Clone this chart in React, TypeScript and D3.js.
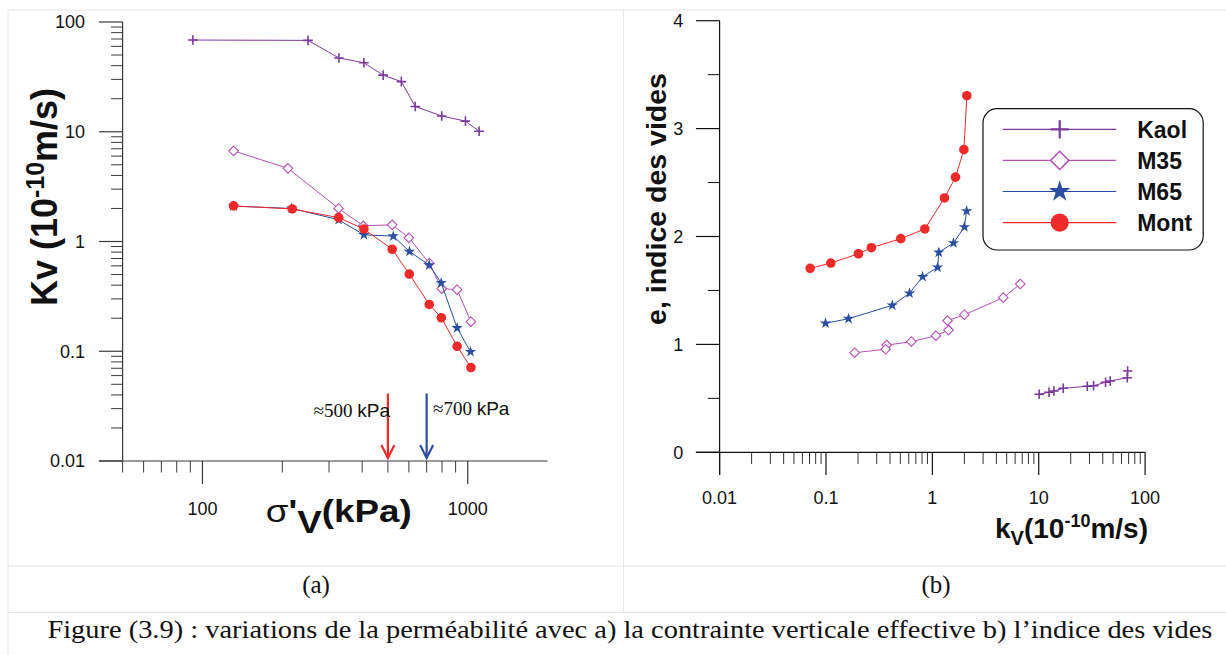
import { scaleLinear, scaleLog, line, symbol, symbolStar } from 'd3'

// effective vertical stress (kPa), permeability kv (1e-10 m/s), void ratio e
const sigmaKaol = [92, 250, 327, 406, 480, 562, 634, 798, 980, 1104]
const kvKaol = [68.5, 68, 47, 42.5, 32.8, 28.6, 17, 13.9, 12.5, 10.1]
const eKaol = [0.753, 0.691, 0.661, 0.649, 0.617, 0.612, 0.593, 0.568, 0.556, 0.538]

const sigmaM35 = [131, 210, 326, 404, 519, 600, 716, 798, 912, 1028]
const kvM35 = [6.7, 4.64, 2.0, 1.39, 1.42, 1.08, 0.635, 0.372, 0.364, 0.186]
const eM35 = [1.56, 1.433, 1.275, 1.22, 1.133, 1.081, 1.025, 0.994, 0.955, 0.923]

const sigmaM65 = [131, 217, 326, 406, 524, 603, 716, 794, 912, 1024]
const kvM65 = [2.1, 2.0, 1.58, 1.15, 1.12, 0.81, 0.61, 0.42, 0.163, 0.099]
const eM65 = [2.236, 2.088, 1.94, 1.853, 1.714, 1.627, 1.474, 1.362, 1.238, 1.196]

const sigmaMont = [131, 218, 326, 406, 519, 602, 716, 795, 912, 1028]
const kvMont = [2.11, 1.98, 1.65, 1.3, 0.85, 0.505, 0.267, 0.202, 0.111, 0.071]
const eMont = [3.305, 2.805, 2.55, 2.357, 2.07, 1.98, 1.896, 1.84, 1.754, 1.705]

const seriesNames = ['Kaol', 'M35', 'M65', 'Mont']
const seriesColors = ['#7a3b9c', '#b650b6', '#2b4ea2', '#ee2a2a']
const seriesMarkers = ['plus', 'diamond', 'star', 'circle']

const leftXLabels = [100, 1000]
const leftYLabels = [0.01, 0.1, 1, 10, 100]
const rightXLabels = [0.01, 0.1, 1, 10, 100]
const rightYLabels = [0, 1, 2, 3, 4]
const arrowValues = [500, 700]
const arrowColors = ['#ee2a2a', '#2b4ea2']

const series = seriesNames.map((name, i) => ({
	name,
	color: seriesColors[i],
	marker: seriesMarkers[i],
	sigma: [sigmaKaol, sigmaM35, sigmaM65, sigmaMont][i],
	kv: [kvKaol, kvM35, kvM65, kvMont][i],
	e: [eKaol, eM35, eM65, eMont][i],
}))

const sans = '"Liberation Sans", Arial, sans-serif'
const serif = '"Liberation Serif", "Times New Roman", serif'
const border = '#e8e8e8'

function minorTicks(lo: number, hi: number) {
	const out: number[] = []
	for (let d = lo; d < hi; d *= 10) {
		for (let k = 2; k <= 9; k++) out.push(d * k)
	}
	return out
}

function Marker({ type, x, y, color, s = 1 }: { type: string; x: number; y: number; color: string; s?: number }) {
	if (type === 'plus') {
		const a = 4.8 * s
		return <path d={`M${x - a},${y}H${x + a}M${x},${y - a}V${y + a}`} stroke={color} strokeWidth={1.6 * Math.sqrt(s)} />
	}
	if (type === 'diamond') {
		const a = 4.8 * s
		return (
			<path
				d={`M${x},${y - a}L${x + a},${y}L${x},${y + a}L${x - a},${y}Z`}
				fill="#fff"
				stroke={color}
				strokeWidth={1.1 * Math.sqrt(s)}
			/>
		)
	}
	if (type === 'star') {
		const d = symbol(symbolStar, 40 * s * s)() ?? ''
		return <path d={d} transform={`translate(${x},${y})`} fill={color} />
	}
	return <circle cx={x} cy={y} r={4.8 * s} fill={color} />
}

export default function App() {
	// left panel: kv vs sigma'v
	const xL = scaleLog().domain([50, 2000]).range([122.6, 547.6])
	const yL = scaleLog().domain([0.01, 100]).range([461, 22])
	// right panel: e vs kv
	const xR = scaleLog().domain([0.01, 100]).range([719.6, 1145.1])
	const yR = scaleLinear().domain([0, 4]).range([452.3, 20.7])

	const leftXMinor = [50, ...minorTicks(10, 1000).filter((v) => v > 50 && v <= 2000)]
	const leftYMinor = minorTicks(0.01, 100)
	const rightXMinor = minorTicks(0.01, 100)
	const rightYMinor = [0.5, 1.5, 2.5, 3.5]

	const axisColor = '#3a3a3a'
	const x0L = xL(50)
	const y0L = yL(0.01)
	const x0R = xR(0.01)
	const y0R = yR(0)

	return (
		<div style={{ position: 'absolute', left: 0, top: 0, background: '#fff' }}>
			<svg width={1226} height={655} viewBox="0 0 1226 655" style={{ display: 'block' }}>
				<rect width={1226} height={655} fill="#fff" />
				{/* table borders */}
				<line x1={8} x2={1226} y1={10} y2={10} stroke={border} />
				<line x1={8} x2={8} y1={10} y2={655} stroke={border} />
				<line x1={623.5} x2={623.5} y1={10} y2={612.5} stroke={border} />
				<line x1={8} x2={1226} y1={566} y2={566} stroke={border} />
				<line x1={8} x2={1226} y1={612.5} y2={612.5} stroke={border} />

				{/* ---------- left panel ---------- */}
				<g fontFamily={sans}>
					<line x1={x0L} x2={x0L} y1={yL(100)} y2={y0L} stroke={axisColor} strokeWidth={1.2} />
					<line x1={x0L - 23.7} x2={xL(2000)} y1={y0L} y2={y0L} stroke={axisColor} strokeWidth={1.2} />
					{leftYLabels.map((v) => (
						<g key={v}>
							<line x1={x0L - 23.7} x2={x0L} y1={yL(v)} y2={yL(v)} stroke={axisColor} strokeWidth={1.2} />
							<text x={85} y={yL(v)} dy="0.35em" textAnchor="end" fontSize={18} fill="#111">
								{v}
							</text>
						</g>
					))}
					{leftYMinor.map((v) => (
						<line key={v} x1={x0L - 11.5} x2={x0L} y1={yL(v)} y2={yL(v)} stroke={axisColor} strokeWidth={1} />
					))}
					{leftXMinor.map((v) => (
						<line key={v} x1={xL(v)} x2={xL(v)} y1={y0L} y2={472.5} stroke={axisColor} strokeWidth={1} />
					))}
					{leftXLabels.map((v) => (
						<g key={v}>
							<line x1={xL(v)} x2={xL(v)} y1={y0L} y2={484} stroke={axisColor} strokeWidth={1.2} />
							<text x={xL(v)} y={514.5} textAnchor="middle" fontSize={18} fill="#111">
								{v}
							</text>
						</g>
					))}

					{series.map((s) => {
						const pts = s.sigma.map((x, i) => [xL(x), yL(s.kv[i])] as [number, number])
						return (
							<g key={s.name}>
								<path d={line()(pts) ?? ''} fill="none" stroke={s.color} strokeWidth={1} />
								{pts.map(([x, y], i) => (
									<Marker key={i} type={s.marker} x={x} y={y} color={s.color} />
								))}
							</g>
						)
					})}

					{arrowValues.map((v, i) => {
						const x = xL(v)
						const c = arrowColors[i]
						return (
							<g key={v} stroke={c} strokeWidth={2.2} fill="none">
								<line x1={x} x2={x} y1={393.5} y2={458} />
								<path d={`M${x - 6.5},${445}L${x},${458}L${x + 6.5},${445}`} />
							</g>
						)
					})}
					<text x={390} y={417} textAnchor="end" fontSize={19} fill="#111">
						<tspan fontFamily={serif}>≈500 </tspan>
						<tspan>kPa</tspan>
					</text>
					<text x={433} y={415} fontSize={19} fill="#111">
						<tspan fontFamily={serif}>≈700 </tspan>
						<tspan>kPa</tspan>
					</text>

					<text transform="translate(57,197) rotate(-90)" textAnchor="middle" fontSize={36} fontWeight="bold" fill="#111">
						Kv (10
						<tspan fontSize={25} dy={-13}>
							-10
						</tspan>
						<tspan dy={13}>m/s)</tspan>
					</text>
					<text transform="translate(265.7,521.7) scale(1.15,1)" fontSize={32} fill="#111">
						<tspan>σ</tspan>
						<tspan fontWeight="bold">'</tspan>
						<tspan fontWeight="bold" dy={11}>
							V
						</tspan>
						<tspan fontWeight="bold" dy={-11}>
							(kPa)
						</tspan>
					</text>
				</g>

				{/* ---------- right panel ---------- */}
				<g fontFamily={sans}>
					<line x1={x0R} x2={x0R} y1={yR(4)} y2={475} stroke="#111" strokeWidth={1.2} />
					<line x1={x0R - 23.7} x2={xR(100)} y1={y0R} y2={y0R} stroke="#111" strokeWidth={1.2} />
					{rightYLabels.map((v) => (
						<g key={v}>
							<line x1={x0R - 23.7} x2={x0R} y1={yR(v)} y2={yR(v)} stroke="#111" strokeWidth={1.2} />
							<text x={683.3} y={yR(v)} dy="0.35em" textAnchor="end" fontSize={18} fill="#111">
								{v}
							</text>
						</g>
					))}
					{rightYMinor.map((v) => (
						<line key={v} x1={x0R - 11.8} x2={x0R} y1={yR(v)} y2={yR(v)} stroke="#111" strokeWidth={1} />
					))}
					{rightXMinor.map((v) => (
						<line key={v} x1={xR(v)} x2={xR(v)} y1={y0R} y2={464} stroke="#333" strokeWidth={1} />
					))}
					{rightXLabels.map((v) => (
						<g key={v}>
							<line x1={xR(v)} x2={xR(v)} y1={y0R} y2={475} stroke="#111" strokeWidth={1.2} />
							<text x={xR(v)} y={504} textAnchor="middle" fontSize={18} fill="#111">
								{v}
							</text>
						</g>
					))}

					{series.map((s) => {
						const pts = s.kv.map((k, i) => [xR(k), yR(s.e[i])] as [number, number])
						return (
							<g key={s.name}>
								<path d={line()(pts) ?? ''} fill="none" stroke={s.color} strokeWidth={1} />
								{pts.map(([x, y], i) => (
									<Marker key={i} type={s.marker} x={x} y={y} color={s.color} s={1} />
								))}
							</g>
						)
					})}

					{/* legend */}
					<rect x={983} y={108.7} width={220.2} height={141.3} rx={14} fill="#fff" stroke="#111" strokeWidth={1.2} />
					{series.map((s, i) => {
						const y = 129.3 + i * 31.1
						return (
							<g key={s.name}>
								<line x1={1002.7} x2={1116.2} y1={y} y2={y} stroke={s.color} strokeWidth={1.2} />
								<Marker type={s.marker} x={1059.7} y={y} color={s.color} s={1.9} />
								<text x={1137.2} y={y} dy="0.36em" fontSize={23} fontWeight="bold" fill="#111">
									{s.name}
								</text>
							</g>
						)
					})}

					<text transform="translate(666,199) rotate(-90)" textAnchor="middle" fontSize={28.5} fontWeight="bold" fill="#111">
						e, indice des vides
					</text>
					<text x={1148} y={538} textAnchor="end" fontSize={28} fontWeight="bold" fill="#111">
						k
						<tspan fontSize={20} dy={7}>
							V
						</tspan>
						<tspan dy={-7}>(10</tspan>
						<tspan fontSize={18} dy={-11}>
							-10
						</tspan>
						<tspan dy={11}>m/s)</tspan>
					</text>
				</g>

				{/* captions */}
				<g fontFamily={serif} fill="#111">
					<text x={316} y={593} textAnchor="middle" fontSize={25}>
						(a)
					</text>
					<text x={936} y={593} textAnchor="middle" fontSize={25}>
						(b)
					</text>
					<text x={47.4} y={638} fontSize={25} textLength={1165} lengthAdjust="spacingAndGlyphs">
						Figure (3.9) : variations de la perméabilité avec a) la contrainte verticale effective b) l’indice des vides
					</text>
				</g>
			</svg>
		</div>
	)
}
